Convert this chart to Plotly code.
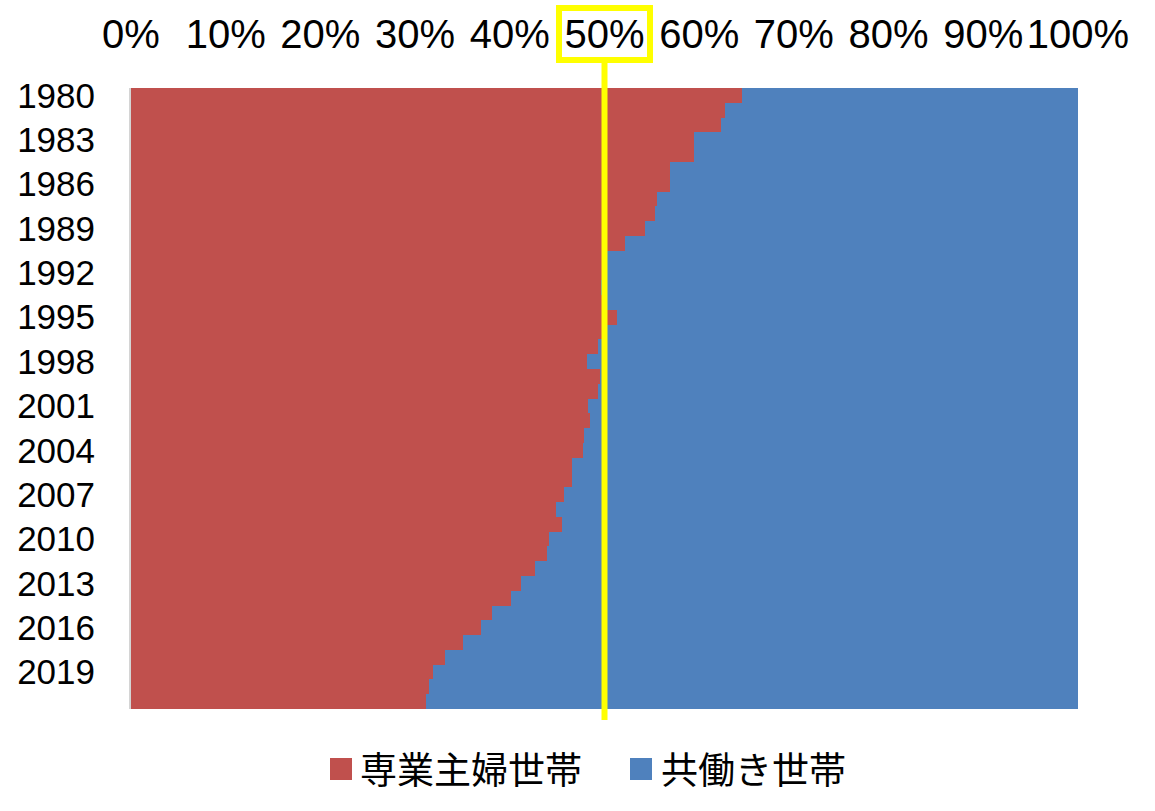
import plotly.graph_objects as go

years = list(range(1980, 2022))
# share of households (%)
housewife_pct = [64.5, 62.7, 62.3, 59.4, 59.4, 56.9, 56.9, 55.5, 55.3, 54.3,
                 52.2, 50.3, 49.7, 49.6, 49.7, 51.3, 50.3, 49.3, 48.2, 49.5,
                 49.3, 48.3, 48.5, 47.8, 47.7, 46.6, 46.6, 45.7, 44.9, 45.5,
                 44.1, 43.9, 42.7, 41.2, 40.1, 38.1, 37.0, 35.1, 33.2, 31.9,
                 31.5, 31.2]
dual_pct = [35.5, 37.3, 37.7, 40.6, 40.6, 43.1, 43.1, 44.5, 44.7, 45.7,
            47.8, 49.7, 50.3, 50.4, 50.3, 48.7, 49.7, 50.7, 51.8, 50.5,
            50.7, 51.7, 51.5, 52.2, 52.3, 53.4, 53.4, 54.3, 55.1, 54.5,
            55.9, 56.1, 57.3, 58.8, 59.9, 61.9, 63.0, 64.9, 66.8, 68.1,
            68.5, 68.8]
series_names = ["専業主婦世帯", "共働き世帯"]
colors = ["#C0504D", "#4F81BD"]
x_ticks = list(range(0, 101, 10))
y_ticks = years[::3]

fig = go.Figure()
for name, vals, col in zip(series_names, [housewife_pct, dual_pct], colors):
    fig.add_trace(go.Bar(x=vals, y=years, orientation="h", name=name,
                         marker=dict(color=col, line=dict(width=0)),
                         showlegend=False))

L, R, T, B = 131, 77, 88, 102
W, H = 1155, 811
pw, ph = W - L - R, H - T - B

def px_x(p):
    return (p - L) / pw

def px_y(p):
    return (H - B - p) / ph

shapes = [
    # 50% highlight line
    dict(type="line", xref="x", yref="paper", x0=50, x1=50,
         y0=px_y(720), y1=px_y(63), line=dict(color="#FFFF00", width=6)),
    # box around 50% label
    dict(type="rect", xref="paper", yref="paper",
         x0=px_x(559), x1=px_x(650), y0=px_y(60), y1=px_y(8),
         line=dict(color="#FFFF00", width=6), fillcolor="rgba(0,0,0,0)"),
    # legend squares
    dict(type="rect", xref="paper", yref="paper",
         x0=px_x(330), x1=px_x(352), y0=px_y(780), y1=px_y(758),
         line=dict(width=0), fillcolor=colors[0]),
    dict(type="rect", xref="paper", yref="paper",
         x0=px_x(630), x1=px_x(652), y0=px_y(780), y1=px_y(758),
         line=dict(width=0), fillcolor=colors[1]),
]
annotations = [
    dict(text=series_names[0], xref="paper", yref="paper", x=px_x(358), y=px_y(768),
         xanchor="left", yanchor="middle", showarrow=False,
         font=dict(family="Noto Sans CJK JP", size=37, color="black")),
    dict(text=series_names[1], xref="paper", yref="paper", x=px_x(659), y=px_y(768),
         xanchor="left", yanchor="middle", showarrow=False,
         font=dict(family="Noto Sans CJK JP", size=37, color="black")),
]

fig.update_layout(
    width=W, height=H,
    margin=dict(l=L, r=R, t=T, b=B, pad=0, autoexpand=False),
    barmode="stack", bargap=0,
    plot_bgcolor="white", paper_bgcolor="white",
    shapes=shapes, annotations=annotations,
    xaxis=dict(range=[0, 100], side="top", tickvals=x_ticks,
               ticktext=[f"{v}%" for v in x_ticks], automargin=False,
               showgrid=False, zeroline=False, showline=False,
               ticks="outside", ticklen=23, tickcolor="rgba(0,0,0,0)",
               tickfont=dict(family="Liberation Sans", size=40, color="black")),
    yaxis=dict(range=[2021.5, 1979.5], tickvals=y_ticks, automargin=False,
               showgrid=False, zeroline=False,
               showline=True, linecolor="#D4D4D4", linewidth=2,
               ticks="outside", ticklen=27, tickcolor="rgba(0,0,0,0)",
               tickfont=dict(family="Liberation Sans", size=35, color="black")),
)

fig.write_html("out.html", config={"displayModeBar": False},
               post_script="document.body.style.margin='0';document.body.style.overflow='hidden';")
